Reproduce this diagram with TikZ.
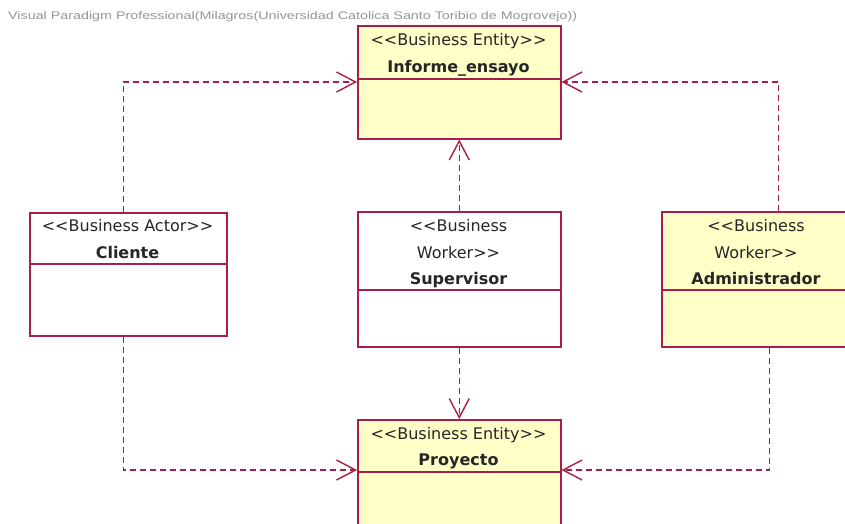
\documentclass[tikz,border=0pt]{standalone}
\usepackage{fontspec}
\setmainfont{DejaVu Sans}
\usepackage{graphicx}
\usetikzlibrary{arrows.meta}

\definecolor{umlred}{RGB}{168,30,72}
\definecolor{umlyellow}{RGB}{255,255,200}
\definecolor{titlegray}{RGB}{150,150,150}

\begin{document}
\begin{tikzpicture}[x=1pt, y=-1pt,
  entitynode/.style={rectangle, draw=umlred, fill=umlyellow, line width=1.5pt, anchor=north west, inner sep=0pt},
  actornode/.style={rectangle, draw=umlred, fill=white, line width=1.5pt, anchor=north west, inner sep=0pt},
  boxtext/.style={align=center, anchor=north, font=\fontsize{16}{26.3}\selectfont, text=black!85, inner sep=0pt},
  boxline/.style={draw=umlred, line width=1.5pt},
  depline/.style={draw=umlred, line width=1.4pt, dash pattern=on 6pt off 4pt, -{Straight Barb[length=19pt, width=20pt, line width=1.4pt]}},
]

\clip (0,0) rectangle (845,523);
\fill[white] (0,0) rectangle (845,523);

\node[anchor=west, text=titlegray, inner sep=0pt] (title) at (8,17)
  {\resizebox{569pt}{8pt}{\fontspec{Liberation Sans}Visual Paradigm Professional(Milagros(Universidad Catolica Santo Toribio de Mogrovejo))}};

\node[entitynode, minimum width=203pt, minimum height=113pt] (informe) at (357,25) {};
\node[actornode, minimum width=197pt, minimum height=123pt] (cliente) at (29,212) {};
\node[actornode, minimum width=203pt, minimum height=135pt] (supervisor) at (357,211) {};
\node[entitynode, minimum width=190pt, minimum height=135pt] (admin) at (661,211) {};
\node[entitynode, minimum width=203pt, minimum height=113pt] (proyecto) at (357,419) {};

\node[boxtext] (informe-txt) at (458.5,33.5) {{<}{<}Business Entity{>}{>}\\\textbf{Informe\_ensayo}};
\node[boxtext] (cliente-txt) at (127.5,219.5) {{<}{<}Business Actor{>}{>}\\\textbf{Cliente}};
\node[boxtext] (supervisor-txt) at (458.5,219.5) {{<}{<}Business\\Worker{>}{>}\\\textbf{Supervisor}};
\node[boxtext] (admin-txt) at (756,219.5) {{<}{<}Business\\Worker{>}{>}\\\textbf{Administrador}};
\node[boxtext] (proyecto-txt) at (458.5,427) {{<}{<}Business Entity{>}{>}\\\textbf{Proyecto}};

% compartment lines
\draw[boxline] ([yshift=-54pt]informe.north west) -- ([yshift=-54pt]informe.north east);
\draw[boxline] ([yshift=-52pt]cliente.north west) -- ([yshift=-52pt]cliente.north east);
\draw[boxline] ([yshift=-79pt]supervisor.north west) -- ([yshift=-79pt]supervisor.north east);
\draw[boxline] ([yshift=-79pt]admin.north west) -- ([yshift=-79pt]admin.north east);
\draw[boxline] ([yshift=-53pt]proyecto.north west) -- ([yshift=-53pt]proyecto.north east);

% dependencies
\draw[depline] ([xshift=-5pt]cliente.north) |- ([yshift=-57pt]informe.north west);
\draw[depline] ([xshift=22pt]admin.north) |- ([yshift=-57pt]informe.north east);
\draw[depline] (supervisor.north) -- (informe.south);
\draw[depline] (supervisor.south) -- (proyecto.north);
\draw[depline] ([xshift=-5pt]cliente.south) |- ([yshift=-51pt]proyecto.north west);
\draw[depline] ([xshift=13pt]admin.south) |- ([yshift=-51pt]proyecto.north east);

\end{tikzpicture}
\end{document}
